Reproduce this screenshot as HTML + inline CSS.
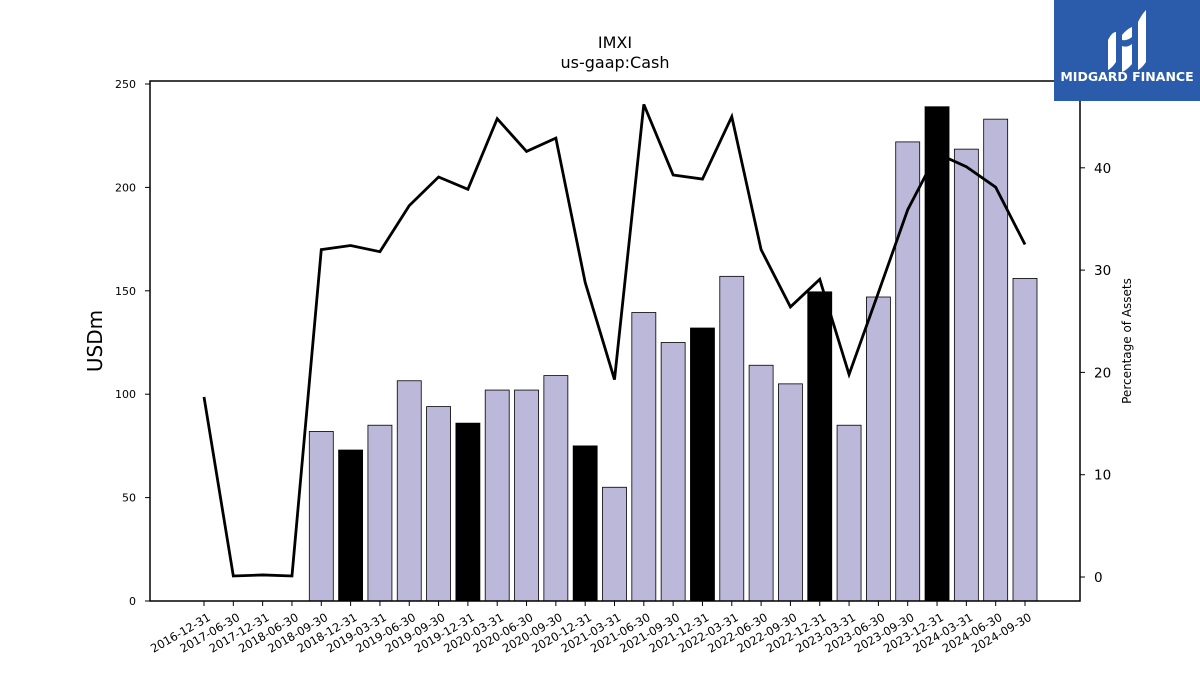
<!DOCTYPE html>
<html><head><meta charset="utf-8"><style>
body{margin:0;background:#fff;font-family:"Liberation Sans","DejaVu Sans",sans-serif;}
svg text{font-family:"DejaVu Sans","Liberation Sans",sans-serif;}
</style></head><body>
<svg id="chart" width="1200" height="675" xmlns="http://www.w3.org/2000/svg">
<rect width="1200" height="675" fill="#fff"/>
<text x="615" y="48" text-anchor="middle" font-size="16">IMXI</text>
<text x="615" y="68" text-anchor="middle" font-size="16">us-gaap:Cash</text>
<g id="bars"></g><g id="line"></g><g id="axes"></g>
<rect x="150" y="81" width="930" height="520" fill="none" stroke="#000" stroke-width="1.5"/>
<text transform="translate(102,341) rotate(-90)" text-anchor="middle" font-size="20">USDm</text>
<text transform="translate(1131,341) rotate(-90)" text-anchor="middle" font-size="12">Percentage of Assets</text>
<g>
<rect x="1054" y="0" width="146" height="101" fill="#2b5cab"/>
<path d="M1108 40 q4-8 8-8 v30 q-4 6-8 8z M1122 35 q5-6 10-8 v10 q-5 4-10 3z M1122 46 q5 2 10-2 v20 q-5 6-10 8z M1138 22 q4-8 8-12 v52 q-4 6-8 8z" fill="#fff"/>
<text x="1127" y="81" text-anchor="middle" font-size="12.5" font-weight="bold" fill="#fff">MIDGARD FINANCE</text>
</g>
</svg>
<script>
const categories=["2016-12-31","2017-06-30","2017-12-31","2018-06-30","2018-09-30","2018-12-31","2019-03-31","2019-06-30","2019-09-30","2019-12-31","2020-03-31","2020-06-30","2020-09-30","2020-12-31","2021-03-31","2021-06-30","2021-09-30","2021-12-31","2022-03-31","2022-06-30","2022-09-30","2022-12-31","2023-03-31","2023-06-30","2023-09-30","2023-12-31","2024-03-31","2024-06-30","2024-09-30"];
const cashValues=[null,null,null,null,82,73,85,106.5,94,86,102,102,109,75,55,139.5,125,132,157,114,105,149.5,85,147,222,239,218.5,233,156];
const pctValues=[17.6,0.1,0.2,0.1,32.0,32.4,31.8,36.3,39.1,37.9,44.8,41.6,42.9,28.8,19.3,46.2,39.3,38.9,45.0,32.0,26.4,29.1,19.8,27.8,35.9,41.4,40.1,38.1,32.5];
const leftTicks=[0,50,100,150,200,250];
const rightTicks=[0,10,20,30,40];
const NS="http://www.w3.org/2000/svg";
const xPos=i=>204+i*(1025-204)/(categories.length-1);
const yL=v=>601-v*(517/250);
const yR=v=>577-v*10.23;
function mk(tag,attrs,parent){const e=document.createElementNS(NS,tag);for(const k in attrs)e.setAttribute(k,attrs[k]);parent.appendChild(e);return e;}
const bars=document.getElementById('bars'),line=document.getElementById('line'),axes=document.getElementById('axes');
cashValues.forEach((v,i)=>{if(v==null)return;const q=categories[i].endsWith('12-31');
const r=mk('rect',{x:xPos(i)-12,y:yL(v),width:24,height:601-yL(v),fill:q?'#000':'#bcb8d9',stroke:'#000','stroke-width':0.8},bars);

});
const pl=mk('polyline',{points:pctValues.map((v,i)=>xPos(i)+','+yR(v)).join(' '),fill:'none',stroke:'#000','stroke-width':2.8},line);


categories.forEach((c,i)=>{const x=xPos(i);mk('line',{x1:x,x2:x,y1:601,y2:606,stroke:'#000'},axes);
const t=mk('text',{transform:`translate(${x+3},${612}) rotate(-30)`,'text-anchor':'end','dominant-baseline':'hanging','font-size':11.5},axes);t.textContent=c;

});
leftTicks.forEach(v=>{const y=yL(v);mk('line',{x1:145,x2:150,y1:y,y2:y,stroke:'#000'},axes);
const t=mk('text',{x:136,y:y+4,'text-anchor':'end','font-size':11},axes);t.textContent=v;

});
rightTicks.forEach(v=>{const y=yR(v);mk('line',{x1:1080,x2:1085,y1:y,y2:y,stroke:'#000'},axes);
const t=mk('text',{x:1094,y:y+5,'font-size':13.5},axes);t.textContent=v;

});
</script>
</body></html>
